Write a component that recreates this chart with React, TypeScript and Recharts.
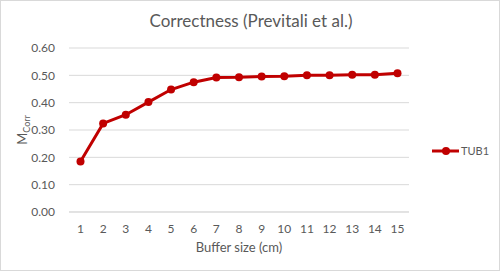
import { LineChart, Line, XAxis, YAxis, CartesianGrid, Legend } from "recharts";

// Buffer sizes (cm) on the x axis
const bufferSizes = [1, 2, 3, 4, 5, 6, 7, 8, 9, 10, 11, 12, 13, 14, 15];
// M_Corr values for TUB1
const tub1 = [0.185, 0.324, 0.356, 0.402, 0.448, 0.475, 0.492, 0.493, 0.496, 0.497, 0.5, 0.5, 0.502, 0.502, 0.508];
const yTicks = [0, 0.1, 0.2, 0.3, 0.4, 0.5, 0.6];

const data = bufferSizes.map((b, i) => ({ size: b, TUB1: tub1[i] }));

const FONT = "Lato, 'Open Sans', sans-serif";
const GREY = "#595959";
const RED = "#C00000";

function YLabel(props: any) {
    const { viewBox } = props;
    const cx = 26;
    const cy = viewBox.y + viewBox.height / 2;
    return (
        <text
            x={cx}
            y={cy}
            transform={`rotate(-90 ${cx} ${cy})`}
            textAnchor="middle"
            fill={GREY}
            fontSize={13}
            fontFamily={FONT}
        >
            M
            <tspan fontSize={9} dy={3}>Corr</tspan>
        </text>
    );
}

function LegendContent() {
    return (
        <div style={{ display: "flex", alignItems: "center", fontFamily: FONT, fontSize: 11, color: GREY }}>
            <svg width={28} height={10}>
                <line x1={0} y1={5} x2={27} y2={5} stroke={RED} strokeWidth={3} />
                <circle cx={14} cy={5} r={4} fill={RED} />
            </svg>
            <span style={{ marginLeft: 1 }}>TUB1</span>
        </div>
    );
}

export default function App() {
    return (
        <div
            style={{
                position: "absolute",
                left: 0,
                top: 0,
                width: 498,
                height: 269,
                border: "1px solid #d9d9d9",
                background: "#fff",
            }}
        >
            <div
                style={{
                    position: "absolute",
                    top: 9,
                    left: 0,
                    width: 500,
                    textAlign: "center",
                    fontFamily: FONT,
                    fontSize: 17,
                    color: GREY,
                }}
            >
                Correctness (Previtali et al.)
            </div>
            <LineChart
                width={498}
                height={269}
                data={data}
                margin={{ top: 47, right: 30, left: 17, bottom: 28 }}
            >
                <CartesianGrid stroke="#d9d9d9" vertical={false} />
                <XAxis
                    dataKey="size"
                    padding={{ left: 11.5, right: 11.5 }}
                    tickLine={false}
                    axisLine={{ stroke: "#d9d9d9" }}
                    tick={{ fill: GREY, fontSize: 12, fontFamily: FONT }}
                    tickMargin={6}
                    interval={0}
                    height={30}
                    label={{
                        value: "Buffer size (cm)",
                        position: "insideBottom",
                        offset: -10,
                        fill: GREY,
                        fontSize: 13,
                        fontFamily: FONT,
                    }}
                />
                <YAxis
                    domain={[0, 0.6]}
                    ticks={yTicks}
                    tickFormatter={(v: number) => v.toFixed(2)}
                    tickLine={false}
                    axisLine={false}
                    tick={{ fill: GREY, fontSize: 12, fontFamily: FONT }}
                    tickMargin={8}
                    width={51}
                    label={<YLabel />}
                />
                <Legend
                    layout="vertical"
                    align="right"
                    verticalAlign="middle"
                    content={<LegendContent />}
                    wrapperStyle={{ position: "absolute", left: 431, top: 143, width: 60 }}
                />
                <Line
                    dataKey="TUB1"
                    stroke={RED}
                    strokeWidth={3}
                    dot={{ r: 4, fill: RED, stroke: RED, strokeWidth: 0 }}
                    isAnimationActive={false}
                />
            </LineChart>
        </div>
    );
}
